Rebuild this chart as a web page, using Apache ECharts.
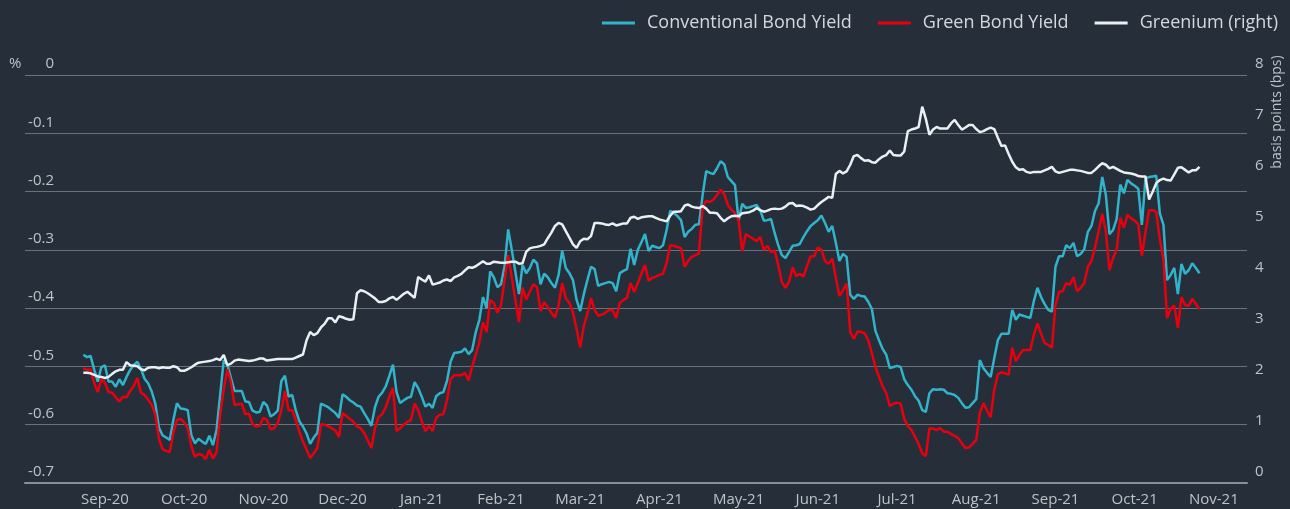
<!DOCTYPE html>
<html>
<head>
<meta charset="utf-8">
<script src="https://cdn.jsdelivr.net/npm/echarts@6/dist/echarts.min.js"></script>
<style>
  html, body { margin: 0; padding: 0; background: #262e39; }
  #chart { width: 1290px; height: 509px; }
</style>
</head>
<body>
<div id="chart"></div>
<script>
// One value per trading day; day 0 falls in the last week of August 2020.
const monthLabels = ['Sep-20', 'Oct-20', 'Nov-20', 'Dec-20', 'Jan-21', 'Feb-21', 'Mar-21',
  'Apr-21', 'May-21', 'Jun-21', 'Jul-21', 'Aug-21', 'Sep-21', 'Oct-21', 'Nov-21'];
// Trading-day index at which each month label sits
const monthTickDays = [6, 28, 50, 72, 94, 116, 138, 160, 182, 204, 226, 248, 270, 292, 314];

// Conventional bond yield, %
const conventionalYield = [
  -0.480, -0.484, -0.482, -0.505, -0.526, -0.501, -0.498, -0.526, -0.526, -0.535,
  -0.522, -0.532, -0.518, -0.506, -0.498, -0.492, -0.504, -0.521, -0.529, -0.543,
  -0.564, -0.605, -0.618, -0.622, -0.626, -0.592, -0.563, -0.572, -0.573, -0.575,
  -0.618, -0.632, -0.624, -0.629, -0.633, -0.619, -0.635, -0.609, -0.549, -0.489,
  -0.497, -0.520, -0.542, -0.542, -0.542, -0.560, -0.561, -0.576, -0.579, -0.578,
  -0.561, -0.567, -0.586, -0.582, -0.576, -0.525, -0.516, -0.552, -0.549, -0.575,
  -0.594, -0.603, -0.615, -0.633, -0.622, -0.614, -0.564, -0.567, -0.570, -0.575,
  -0.580, -0.588, -0.548, -0.552, -0.558, -0.562, -0.567, -0.569, -0.580, -0.590,
  -0.602, -0.570, -0.552, -0.545, -0.534, -0.516, -0.497, -0.544, -0.563, -0.558,
  -0.554, -0.552, -0.527, -0.537, -0.552, -0.569, -0.564, -0.571, -0.551, -0.546,
  -0.544, -0.525, -0.492, -0.477, -0.476, -0.475, -0.469, -0.479, -0.472, -0.441,
  -0.420, -0.381, -0.400, -0.337, -0.347, -0.364, -0.359, -0.328, -0.265, -0.300,
  -0.338, -0.376, -0.326, -0.340, -0.331, -0.317, -0.323, -0.359, -0.341, -0.347,
  -0.357, -0.365, -0.343, -0.301, -0.331, -0.340, -0.352, -0.386, -0.405, -0.376,
  -0.352, -0.329, -0.333, -0.362, -0.359, -0.357, -0.355, -0.357, -0.371, -0.340,
  -0.336, -0.333, -0.298, -0.326, -0.300, -0.287, -0.273, -0.302, -0.293, -0.295,
  -0.297, -0.292, -0.266, -0.233, -0.237, -0.242, -0.249, -0.278, -0.269, -0.264,
  -0.257, -0.256, -0.206, -0.165, -0.168, -0.170, -0.160, -0.148, -0.153, -0.175,
  -0.182, -0.189, -0.250, -0.221, -0.228, -0.227, -0.225, -0.223, -0.232, -0.250,
  -0.249, -0.247, -0.271, -0.292, -0.309, -0.314, -0.304, -0.293, -0.292, -0.290,
  -0.278, -0.268, -0.259, -0.254, -0.249, -0.241, -0.254, -0.269, -0.259, -0.288,
  -0.319, -0.307, -0.312, -0.377, -0.384, -0.377, -0.379, -0.380, -0.389, -0.401,
  -0.439, -0.455, -0.470, -0.480, -0.503, -0.501, -0.499, -0.501, -0.522, -0.532,
  -0.540, -0.551, -0.559, -0.575, -0.578, -0.546, -0.539, -0.540, -0.539, -0.540,
  -0.546, -0.547, -0.549, -0.554, -0.563, -0.571, -0.570, -0.563, -0.556, -0.489,
  -0.503, -0.511, -0.518, -0.486, -0.455, -0.444, -0.444, -0.444, -0.403, -0.420,
  -0.411, -0.413, -0.415, -0.417, -0.388, -0.365, -0.381, -0.393, -0.403, -0.406,
  -0.329, -0.311, -0.311, -0.292, -0.297, -0.288, -0.311, -0.307, -0.299, -0.269,
  -0.259, -0.233, -0.220, -0.175, -0.206, -0.273, -0.266, -0.247, -0.188, -0.203,
  -0.180, -0.186, -0.190, -0.195, -0.257, -0.178, -0.175, -0.174, -0.173, -0.238,
  -0.257, -0.352, -0.343, -0.331, -0.376, -0.324, -0.341, -0.335, -0.323, -0.331, -0.340
];

// Green bond yield, %
const greenYield = [
  -0.503, -0.506, -0.505, -0.528, -0.544, -0.522, -0.528, -0.544, -0.545, -0.553,
  -0.560, -0.552, -0.553, -0.542, -0.534, -0.520, -0.545, -0.549, -0.557, -0.566,
  -0.582, -0.624, -0.642, -0.645, -0.647, -0.614, -0.592, -0.590, -0.596, -0.606,
  -0.637, -0.655, -0.650, -0.652, -0.659, -0.643, -0.658, -0.647, -0.583, -0.539,
  -0.505, -0.528, -0.566, -0.565, -0.564, -0.582, -0.581, -0.599, -0.603, -0.602,
  -0.588, -0.592, -0.608, -0.606, -0.597, -0.575, -0.542, -0.575, -0.575, -0.592,
  -0.612, -0.629, -0.643, -0.657, -0.649, -0.640, -0.599, -0.600, -0.603, -0.606,
  -0.610, -0.621, -0.580, -0.585, -0.590, -0.595, -0.603, -0.606, -0.614, -0.627,
  -0.640, -0.606, -0.587, -0.582, -0.570, -0.552, -0.537, -0.611, -0.606, -0.600,
  -0.595, -0.592, -0.564, -0.575, -0.594, -0.611, -0.602, -0.611, -0.588, -0.583,
  -0.582, -0.558, -0.522, -0.515, -0.515, -0.515, -0.511, -0.524, -0.500, -0.480,
  -0.458, -0.424, -0.441, -0.386, -0.391, -0.408, -0.395, -0.352, -0.309, -0.347,
  -0.386, -0.424, -0.365, -0.385, -0.372, -0.359, -0.364, -0.405, -0.390, -0.398,
  -0.408, -0.416, -0.395, -0.357, -0.383, -0.391, -0.408, -0.436, -0.467, -0.431,
  -0.410, -0.383, -0.403, -0.413, -0.411, -0.408, -0.403, -0.403, -0.417, -0.391,
  -0.386, -0.382, -0.357, -0.372, -0.357, -0.341, -0.326, -0.353, -0.348, -0.346,
  -0.343, -0.341, -0.323, -0.292, -0.293, -0.295, -0.297, -0.329, -0.319, -0.312,
  -0.309, -0.306, -0.226, -0.216, -0.218, -0.214, -0.206, -0.197, -0.204, -0.223,
  -0.231, -0.237, -0.249, -0.302, -0.273, -0.277, -0.281, -0.285, -0.278, -0.300,
  -0.293, -0.304, -0.301, -0.326, -0.355, -0.365, -0.355, -0.330, -0.345, -0.341,
  -0.346, -0.328, -0.311, -0.311, -0.296, -0.300, -0.319, -0.324, -0.315, -0.348,
  -0.379, -0.369, -0.358, -0.441, -0.453, -0.440, -0.441, -0.443, -0.455, -0.477,
  -0.501, -0.518, -0.534, -0.546, -0.568, -0.564, -0.562, -0.564, -0.590, -0.602,
  -0.609, -0.621, -0.633, -0.649, -0.654, -0.606, -0.607, -0.609, -0.606, -0.612,
  -0.612, -0.616, -0.619, -0.623, -0.632, -0.640, -0.639, -0.633, -0.626, -0.580,
  -0.563, -0.576, -0.587, -0.540, -0.513, -0.510, -0.512, -0.514, -0.468, -0.491,
  -0.480, -0.472, -0.472, -0.472, -0.446, -0.426, -0.444, -0.460, -0.463, -0.468,
  -0.395, -0.372, -0.371, -0.357, -0.360, -0.347, -0.371, -0.365, -0.357, -0.329,
  -0.319, -0.295, -0.268, -0.238, -0.269, -0.335, -0.314, -0.300, -0.245, -0.262,
  -0.240, -0.246, -0.250, -0.256, -0.310, -0.270, -0.232, -0.232, -0.235, -0.282,
  -0.317, -0.417, -0.401, -0.396, -0.434, -0.381, -0.395, -0.396, -0.384, -0.393, -0.402
];

// Greenium, basis points (right axis)
const greenium = [
  2.16, 2.16, 2.15, 2.12, 2.09, 2.08, 2.06, 2.08, 2.14, 2.19,
  2.22, 2.22, 2.37, 2.31, 2.30, 2.29, 2.23, 2.21, 2.26, 2.27,
  2.27, 2.25, 2.27, 2.26, 2.26, 2.29, 2.27, 2.20, 2.20, 2.23,
  2.27, 2.32, 2.36, 2.37, 2.38, 2.39, 2.41, 2.44, 2.41, 2.51,
  2.31, 2.34, 2.40, 2.42, 2.41, 2.40, 2.39, 2.40, 2.42, 2.44,
  2.44, 2.40, 2.41, 2.42, 2.43, 2.43, 2.43, 2.43, 2.43, 2.46,
  2.49, 2.52, 2.80, 2.96, 2.90, 2.94, 3.05, 3.12, 3.23, 3.23,
  3.15, 3.27, 3.25, 3.22, 3.20, 3.21, 3.72, 3.78, 3.76, 3.72,
  3.67, 3.62, 3.55, 3.55, 3.57, 3.62, 3.65, 3.59, 3.65, 3.71,
  3.75, 3.69, 3.63, 4.04, 3.99, 3.95, 4.07, 3.89, 3.91, 3.93,
  3.97, 3.99, 3.96, 4.03, 4.06, 4.10, 4.17, 4.23, 4.22, 4.25,
  4.30, 4.35, 4.30, 4.30, 4.34, 4.33, 4.32, 4.32, 4.33, 4.34,
  4.34, 4.30, 4.31, 4.53, 4.60, 4.62, 4.63, 4.65, 4.68, 4.80,
  4.91, 5.04, 5.10, 5.07, 4.94, 4.81, 4.68, 4.61, 4.74, 4.79,
  4.78, 4.84, 5.10, 5.10, 5.09, 5.07, 5.06, 5.09, 5.05, 5.07,
  5.09, 5.09, 5.20, 5.22, 5.18, 5.21, 5.22, 5.23, 5.23, 5.20,
  5.17, 5.15, 5.13, 5.24, 5.32, 5.32, 5.33, 5.44, 5.46, 5.42,
  5.40, 5.39, 5.43, 5.38, 5.30, 5.30, 5.29, 5.20, 5.13, 5.19,
  5.23, 5.24, 5.23, 5.29, 5.30, 5.31, 5.34, 5.39, 5.35, 5.32,
  5.34, 5.37, 5.38, 5.37, 5.38, 5.42, 5.48, 5.49, 5.43, 5.44,
  5.43, 5.40, 5.36, 5.38, 5.45, 5.51, 5.56, 5.61, 5.59, 6.06,
  6.12, 6.07, 6.11, 6.24, 6.41, 6.43, 6.37, 6.32, 6.33, 6.29,
  6.28, 6.35, 6.40, 6.43, 6.52, 6.43, 6.42, 6.42, 6.50, 6.90,
  6.93, 6.95, 6.98, 7.38, 7.14, 6.83, 6.93, 6.98, 6.95, 6.95,
  6.95, 7.05, 7.12, 7.02, 6.93, 6.97, 7.02, 7.02, 6.94, 6.88,
  6.90, 6.94, 6.97, 6.94, 6.77, 6.61, 6.62, 6.45, 6.30, 6.19,
  6.14, 6.15, 6.10, 6.08, 6.10, 6.10, 6.10, 6.13, 6.16, 6.20,
  6.11, 6.08, 6.10, 6.12, 6.14, 6.14, 6.13, 6.12, 6.10, 6.08,
  6.08, 6.14, 6.21, 6.27, 6.24, 6.17, 6.20, 6.16, 6.12, 6.09,
  6.08, 6.07, 6.05, 6.02, 6.01, 6.01, 5.56, 5.71, 5.88, 5.94,
  5.97, 5.94, 5.93, 6.05, 6.18, 6.19, 6.14, 6.09, 6.13, 6.13, 6.20
];

const FONT = "'Open Sans', 'Noto Sans', sans-serif";
const LABEL = '#bcc3c9';
const withDay = arr => arr.map((v, i) => [i, v]);

const chart = echarts.init(document.getElementById('chart'), null, { renderer: 'canvas' });

chart.setOption({
  backgroundColor: '#262e39',
  animation: false,
  textStyle: { fontFamily: FONT },
  grid: { left: 25, right: 43, top: 75, bottom: 26, containLabel: false, outerBoundsMode: 'none' },
  legend: {
    right: 7,
    top: 9,
    icon: 'rect',
    itemWidth: 33,
    itemHeight: 3,
    itemGap: 26,
    textStyle: { color: '#d3d8dd', fontSize: 18, fontFamily: FONT, padding: [0, 0, 0, 7] },
    data: ['Conventional Bond Yield', 'Green Bond Yield', 'Greenium (right)']
  },
  xAxis: {
    type: 'value',
    min: -16.2,
    max: 323.2,
    axisLine: { onZero: false, lineStyle: { color: '#878e95', width: 2 } },
    axisTick: { show: false },
    splitLine: { show: false },
    axisLabel: {
      customValues: monthTickDays,
      formatter: v => monthLabels[monthTickDays.indexOf(v)] || '',
      color: LABEL,
      fontSize: 15,
      margin: 9
    }
  },
  yAxis: [
    {
      type: 'value',
      position: 'left',
      min: -0.7,
      max: 0,
      interval: 0.1,
      axisLine: { show: false, onZero: false },
      axisTick: { show: false },
      splitLine: { lineStyle: { color: '#69717a', width: 1.2 } },
      axisLabel: {
        inside: true,
        margin: 29,
        align: 'right',
        verticalAlign: 'bottom',
        lineHeight: 22,
        color: LABEL,
        fontSize: 15,
        formatter: v => (Math.abs(v) < 1e-9 ? '0' : v.toFixed(1))
      }
    },
    {
      type: 'value',
      position: 'right',
      min: 0,
      max: 8,
      interval: 1,
      axisLine: { show: false, onZero: false },
      axisTick: { show: false },
      splitLine: { show: false },
      axisLabel: {
        margin: 8,
        verticalAlign: 'bottom',
        lineHeight: 22,
        color: LABEL,
        fontSize: 15
      }
    }
  ],
  graphic: [
    {
      type: 'text',
      left: 9,
      top: 56,
      style: { text: '%', fill: LABEL, font: "15px 'Open Sans', sans-serif" }
    },
    {
      type: 'text',
      x: 1277,
      y: 112,
      rotation: Math.PI / 2,
      style: {
        text: 'basis points (bps)',
        fill: LABEL,
        font: "14px 'Open Sans', sans-serif",
        align: 'center',
        verticalAlign: 'middle'
      }
    }
  ],
  series: [
    {
      name: 'Conventional Bond Yield',
      type: 'line',
      yAxisIndex: 0,
      data: withDay(conventionalYield),
      showSymbol: false,
      lineStyle: { color: '#31b3cb', width: 2.5 },
      itemStyle: { color: '#31b3cb' }
    },
    {
      name: 'Green Bond Yield',
      type: 'line',
      yAxisIndex: 0,
      data: withDay(greenYield),
      showSymbol: false,
      lineStyle: { color: '#e8000f', width: 2.5 },
      itemStyle: { color: '#e8000f' }
    },
    {
      name: 'Greenium (right)',
      type: 'line',
      yAxisIndex: 1,
      data: withDay(greenium),
      showSymbol: false,
      lineStyle: { color: '#e9f0f4', width: 2.5 },
      itemStyle: { color: '#e9f0f4' }
    }
  ]
});
</script>
</body>
</html>
